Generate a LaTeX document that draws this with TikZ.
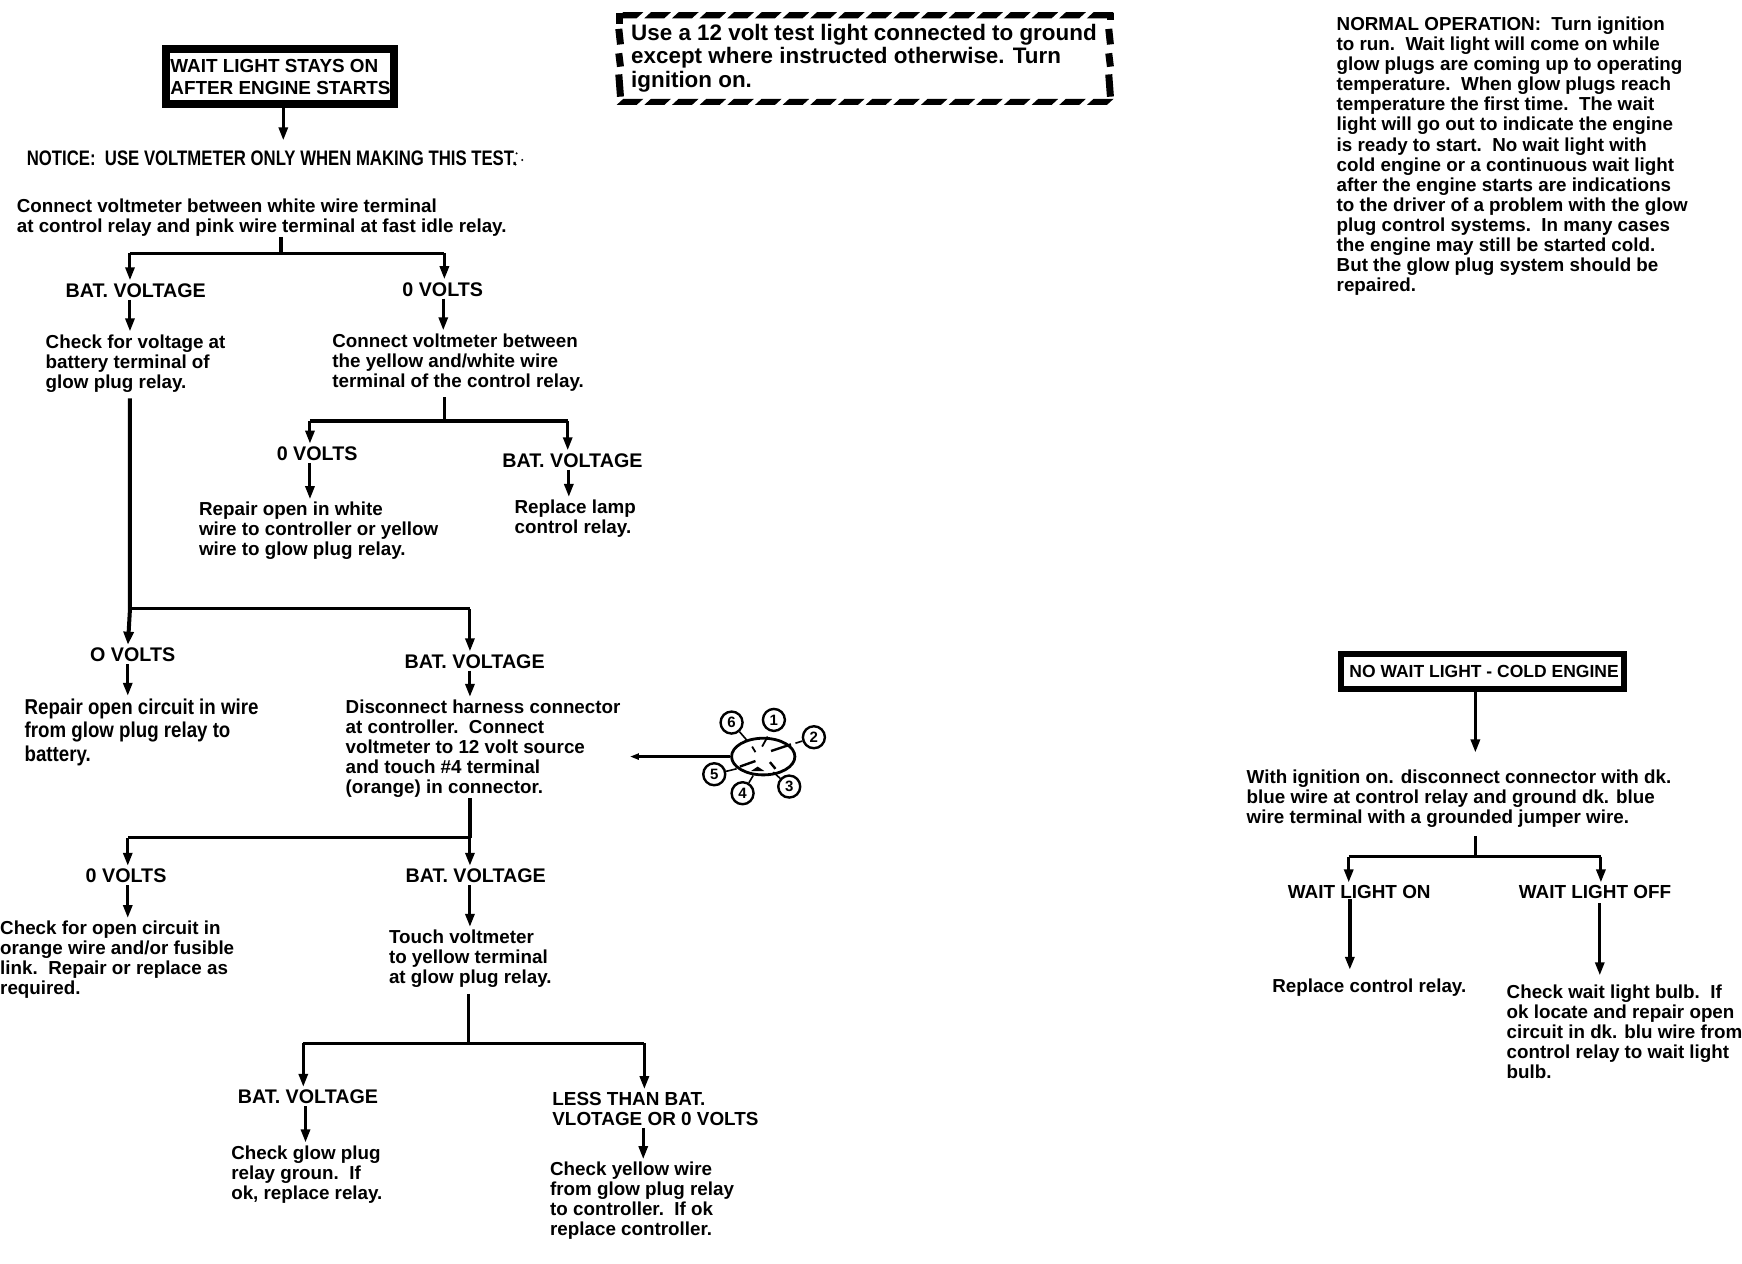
\documentclass[tikz,border=0pt]{standalone}
\usepackage{fontspec}
\usepackage{graphicx}
\setmainfont{Liberation Sans}
\usetikzlibrary{arrows.meta}
\tikzset{
  x=1.111pt,y=-1.111pt,
  body/.style={inner sep=0pt,anchor=north west,align=left,font=\fontsize{18.8}{20}\selectfont\bfseries},
  lab/.style={inner sep=0pt,anchor=north west,align=left,font=\fontsize{19.7}{20}\selectfont\bfseries},
  labn/.style={inner sep=0pt,anchor=north west,align=left,font=\fontsize{18.9}{20}\selectfont\bfseries},
  titlebox/.style={draw,line width=7.5pt,inner sep=0pt,align=left,font=\fontsize{18.5}{22}\selectfont\bfseries},
  arr/.style={line width=3pt,-{Triangle[length=13pt,width=9pt]},shorten >=3pt},
  thickarr/.style={line width=4pt,-{Triangle[length=13pt,width=10pt]},shorten >=3pt},
  ln/.style={line width=3.2pt},
  pin/.style={circle,draw,line width=2.4pt,minimum size=22pt,inner sep=0pt,font=\fontsize{15}{15}\selectfont\bfseries},
  wire/.style={line width=1.6pt},
  rope/.style={line width=7pt,line cap=butt},
}
\begin{document}
\begin{tikzpicture}
\useasboundingbox (0,0) rectangle (1568,1137.7);

% title boxes
\node[titlebox,minimum width=228pt,minimum height=55pt,font=\fontsize{18.9}{22}\selectfont\bfseries] (box1) at (252,69) {\hspace{1pt}WAIT LIGHT STAYS ON\\\hspace{1pt}AFTER ENGINE STARTS};
\node[titlebox,line width=6pt,minimum width=283pt,minimum height=35pt,font=\fontsize{17.5}{20}\selectfont\bfseries] (box2) at (1334,604.5) {\hspace{4pt}NO WAIT LIGHT - COLD ENGINE};

% instruction box
\node[inner sep=0pt,anchor=north west,align=left,font=\fontsize{22.4}{23.4}\selectfont\bfseries] (inst) at (568,21.5) {Use a 12 volt test light connected to ground\\except where instructed otherwise. Turn\\ignition on.};
\foreach \i in {0,...,17} {
  \fill ({555+\i*24.9},16.5) -- ({561+\i*24.9},11) -- ({579+\i*24.9},11) -- ({573+\i*24.9},16.5) -- cycle;
  \fill ({555+\i*24.9},94.5) -- ({561+\i*24.9},89) -- ({579+\i*24.9},89) -- ({573+\i*24.9},94.5) -- cycle;
}
\foreach \a/\b in {26/40,48/60,67/87} {
  \draw[rope] (557,\a) -- (558.5,\b);
  \draw[rope] (998,\a) -- (999.5,\b);
}
\draw[rope] (557.5,12) -- (557.5,22);
\draw[rope] (999.5,12) -- (999.5,18);

% normal operation text
\node[body,font=\fontsize{18.8}{20.1}\selectfont\bfseries] (normal) at (1203,15) {NORMAL OPERATION:\ \ Turn ignition\\to run.\ \ Wait light will come on while\\glow plugs are coming up to operating\\temperature.\ \ When glow plugs reach\\temperature the first time.\ \ The wait\\light will go out to indicate the engine\\is ready to start.\ \ No wait light with\\cold engine or a continuous wait light\\after the engine starts are indications\\to the driver of a problem with the glow\\plug control systems.\ \ In many cases\\the engine may still be started cold.\\But the glow plug system should be\\repaired.};

% left column text
\node[lab,font=\fontsize{21}{22}\selectfont\bfseries] (notice) at (24,135.5) {\scalebox{0.797}[1]{NOTICE:\ \ USE VOLTMETER ONLY WHEN MAKING THIS TEST.}};
\fill (465,138) circle (1) (464,148) circle (1) (470,144) circle (1);

\node[body] (n1) at (15,179) {Connect voltmeter between white wire terminal\\at control relay and pink wire terminal at fast idle relay.};
\node[lab] (bv1) at (59,255) {BAT. VOLTAGE};
\node[lab] (z1) at (362,254) {0 VOLTS};
\node[body] (n2) at (41,301) {Check for voltage at\\battery terminal of\\glow plug relay.};
\node[body] (n3) at (299,300) {Connect voltmeter between\\the yellow and/white wire\\terminal of the control relay.};
\node[lab] (z2) at (249,402) {0 VOLTS};
\node[lab] (bv2) at (452,408) {BAT. VOLTAGE};
\node[body] (n4) at (179,452) {Repair open in white\\wire to controller or yellow\\wire to glow plug relay.};
\node[body] (n5) at (463,450) {Replace lamp\\control relay.};
\node[lab] (z3) at (81,583) {O VOLTS};
\node[lab] (bv3) at (364,589) {BAT. VOLTAGE};
\node[inner sep=0pt,anchor=north west,align=left,font=\fontsize{21.5}{23.3}\selectfont\bfseries] (n6) at (22,629) {\scalebox{0.87}[1]{Repair open circuit in wire}\\\scalebox{0.87}[1]{from glow plug relay to}\\\scalebox{0.87}[1]{battery.}};
\node[body] (n7) at (311,630) {Disconnect harness connector\\at controller.\ \ Connect\\voltmeter to 12 volt source\\and touch \#4 terminal\\(orange) in connector.};
\node[lab] (z4) at (77,782) {0 VOLTS};
\node[lab] (bv4) at (365,782) {BAT. VOLTAGE};
\node[body] (n8) at (0,829) {Check for open circuit in\\orange wire and/or fusible\\link.\ \ Repair or replace as\\required.};
\node[body] (n9) at (350,837) {Touch voltmeter\\to yellow terminal\\at glow plug relay.};
\node[lab] (bv5) at (214,981) {BAT. VOLTAGE};
\node[labn] (lt) at (497,983) {LESS THAN BAT.\\VLOTAGE OR 0 VOLTS};
\node[body] (n10) at (208,1031) {Check glow plug\\relay groun.\ \ If\\ok, replace relay.};
\node[body] (n11) at (495,1046) {Check yellow wire\\from glow plug relay\\to controller.\ \ If ok\\replace controller.};

% right column text
\node[body] (r1) at (1122,693) {With ignition on. disconnect connector with dk.\\blue wire at control relay and ground dk. blue\\wire terminal with a grounded jumper wire.};
\node[labn] (won) at (1159,797) {WAIT LIGHT ON};
\node[labn] (woff) at (1367,797) {WAIT LIGHT OFF};
\node[body] (r2) at (1145,881) {Replace control relay.};
\node[body] (r3) at (1356,886) {Check wait light bulb.\ \ If\\ok locate and repair open\\circuit in dk. blu wire from\\control relay to wait light\\bulb.};

% junctions
\coordinate (j1) at (253,228);
\coordinate (j1l) at (117,228);
\coordinate (j1r) at (400,228);
\coordinate (j2) at (400,379);
\coordinate (j2l) at (279,379);
\coordinate (j2r) at (511,379);
\coordinate (j3) at (117,548);
\coordinate (j3r) at (423,548);
\coordinate (j4) at (423,754);
\coordinate (j4l) at (115,754);
\coordinate (j5) at (422,939);
\coordinate (j5l) at (273,939);
\coordinate (j5r) at (580,939);
\coordinate (j6) at (1328,771);
\coordinate (j6l) at (1214,771);
\coordinate (j6r) at (1441,771);

% connectors
\draw[arr] (box1.south -| 255,0) -- (255,129);
\draw[ln] (n1.south -| j1) -- (j1);
\draw[ln] (j1l) -- (j1r);
\draw[arr] (j1l) -- (bv1.north -| j1l);
\draw[arr] (j1r) -- (z1.north -| j1r);
\draw[arr,shorten <=2pt] (bv1.south -| 117,0) -- (n2.north -| 117,0);
\draw[arr,shorten <=2pt] (z1.south -| 399,0) -- (n3.north -| 399,0);
\draw[ln,shorten <=6pt] (n3.south -| j2) -- (j2);
\draw[ln] (j2l) -- (j2r);
\draw[arr] (j2l) -- (z2.north -| j2l);
\draw[arr] (j2r) -- (bv2.north -| j2r);
\draw[arr,shorten <=2pt] (z2.south -| j2l) -- (n4.north -| j2l);
\draw[arr,shorten <=2pt] (bv2.south -| 512,0) -- (n5.north -| 512,0);
\draw[thickarr,shorten <=6pt] (n2.south -| j3) -- (j3) -- (z3.north -| 115,0);
\draw[ln] (j3) -- (j3r);
\draw[arr] (j3r) -- (bv3.north -| j3r);
\draw[arr,shorten <=2pt] (z3.south -| 115,0) -- (n6.north -| 115,0);
\draw[arr,shorten <=2pt] (bv3.south -| 423,0) -- (n7.north -| 423,0);
\draw[ln] (n7.south -| j4) -- (j4);
\draw[ln] (j4l) -- (j4);
\draw[arr] (j4l) -- (z4.north -| j4l);
\draw[arr] (j4) -- (bv4.north -| j4);
\draw[arr,shorten <=2pt] (z4.south -| j4l) -- (n8.north -| j4l);
\draw[arr,shorten <=2pt] (bv4.south -| j4) -- (n9.north -| j4);
\draw[ln,shorten <=6pt] (n9.south -| j5) -- (j5);
\draw[ln] (j5l) -- (j5r);
\draw[arr] (j5l) -- (bv5.north -| j5l);
\draw[arr] (j5r) -- (lt.north -| j5r);
\draw[arr,shorten <=2pt] (bv5.south -| 275,0) -- (n10.north -| 275,0);
\draw[arr,shorten <=2pt] (lt.south -| 579,0) -- (n11.north -| 579,0);

\draw[arr] (box2.south -| j6) -- (1328,680);
\draw[ln,shorten <=8pt] (r1.south -| j6) -- (j6);
\draw[ln] (j6l) -- (j6r);
\draw[arr] (j6l) -- (won.north -| j6l);
\draw[arr] (j6r) -- (woff.north -| j6r);
\draw[arr,line width=3.6pt,shorten >=9pt] (won.south -| 1215,0) -- (r2.north -| 1215,0);
\draw[arr,shorten <=4pt,shorten >=9pt] (woff.south -| 1440,0) -- (r3.north -| 1440,0);

% connector sketch
\coordinate (elc) at (687,681);
\draw[line width=2.8pt] (elc) ellipse [x radius=28.5,y radius=16.5];
\node[pin] (p1) at (696.6,648) {1};
\node[pin] (p2) at (732.6,663.6) {2};
\node[pin] (p3) at (710.4,708) {3};
\node[pin] (p4) at (668.4,714) {4};
\node[pin] (p5) at (642.9,696.9) {5};
\node[pin] (p6) at (658.5,650.4) {6};
\draw[wire] (p6) -- (672,666);
\draw[wire] (p2) -- (716,669);
\draw[wire] (p5) -- (663,692);
\draw[wire] (p4) -- (678,698);
\draw[wire] (p3) -- (696,695);
\draw[line width=1.8pt] (691,663) -- (686,672);
\draw[line width=1.8pt] (677,672) -- (680,677);
\draw[line width=2.4pt] (694,676) -- (712,670);
\draw[line width=2.4pt] (666,690) -- (680,685);
\fill (682,690) -- (688,694) -- (676,694) -- cycle;
\draw[line width=2.4pt] (693,686) -- (698,692);
\coordinate (pa) at (657.5,681);
\draw[line width=2.8pt,-{Triangle[length=9pt,width=6pt]}] (pa) -- (567,681);
\end{tikzpicture}
\end{document}
